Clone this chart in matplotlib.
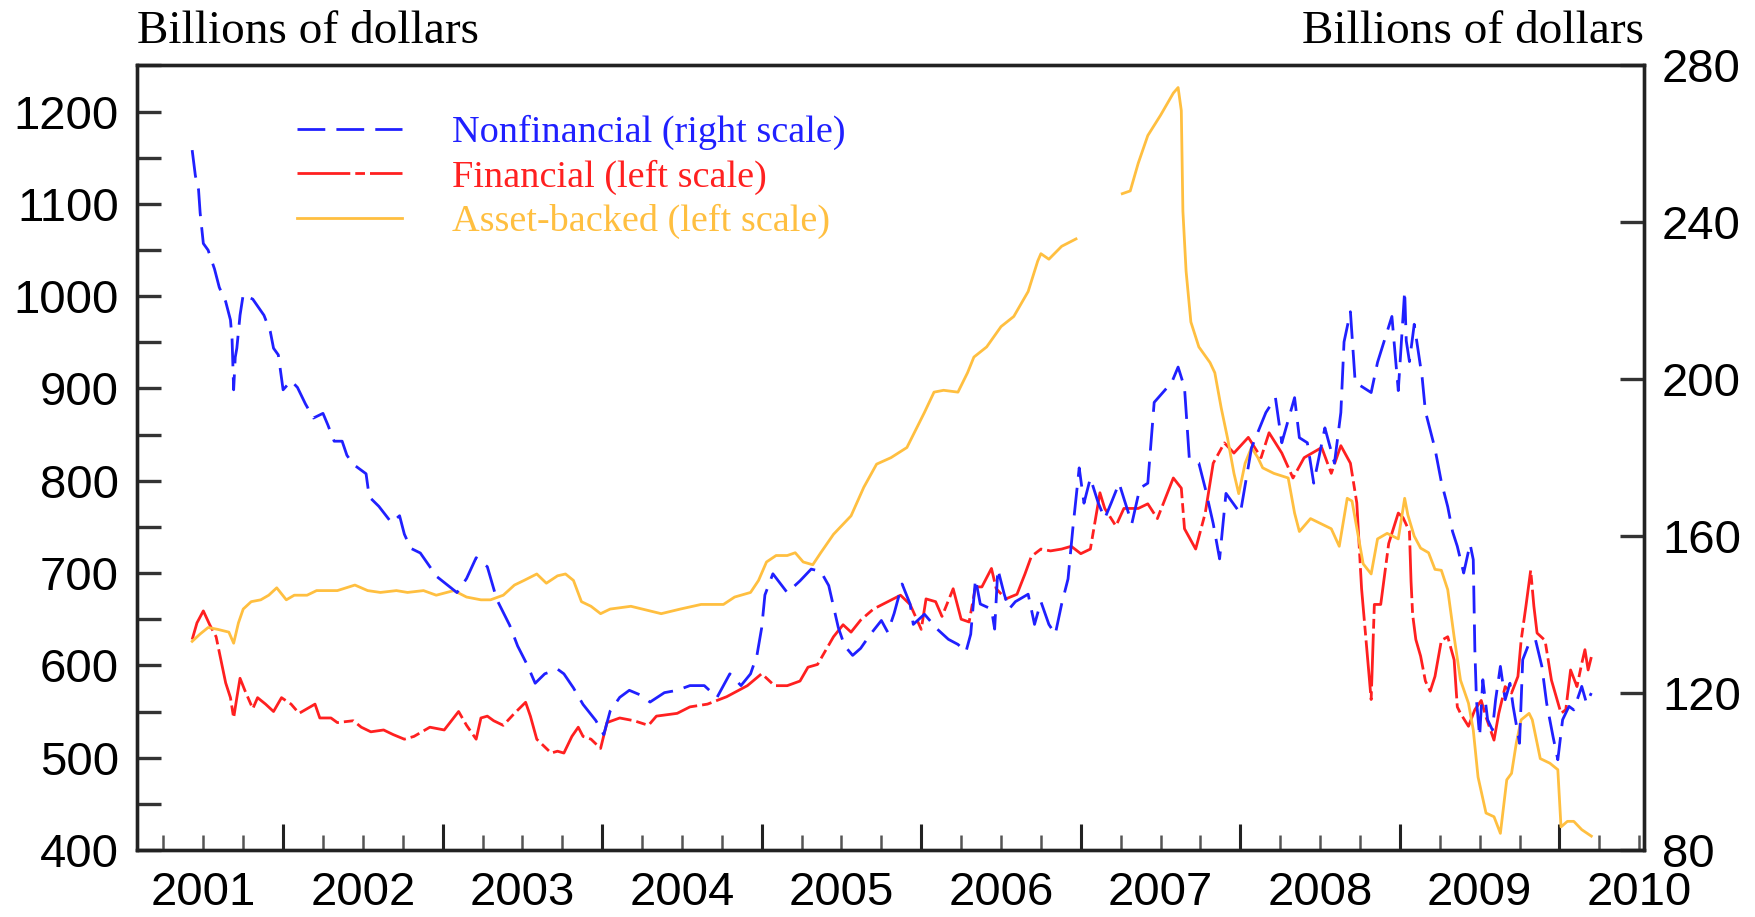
import numpy as np
import matplotlib
matplotlib.use("Agg")
import matplotlib.pyplot as plt
import matplotlib.transforms as mtransforms
from matplotlib.ticker import MultipleLocator

plt.rcParams['font.family'] = ['Liberation Sans', 'DejaVu Sans']

# commercial paper outstanding (x in fractional years)
nf_year = [2001.43, 2001.45, 2001.47, 2001.48, 2001.50, 2001.53, 2001.57, 2001.60, 2001.64, 2001.67,
           2001.68, 2001.69, 2001.70, 2001.71, 2001.73, 2001.75, 2001.81, 2001.88, 2001.92, 2001.94,
           2001.97, 2002.00, 2002.05, 2002.09, 2002.14, 2002.19, 2002.25, 2002.28, 2002.32, 2002.37,
           2002.40, 2002.44, 2002.52, 2002.54, 2002.60, 2002.68, 2002.73, 2002.76, 2002.80, 2002.86,
           2002.92, 2002.96, 2003.09, 2003.15, 2003.21, 2003.28, 2003.34, 2003.42, 2003.47, 2003.53,
           2003.58, 2003.64, 2003.72, 2003.76, 2003.82, 2003.88, 2003.96, 2004.01, 2004.05, 2004.11,
           2004.17, 2004.24, 2004.30, 2004.39, 2004.47, 2004.55, 2004.64, 2004.72, 2004.80, 2004.87,
           2004.93, 2004.97, 2005.00, 2005.02, 2005.07, 2005.16, 2005.24, 2005.31, 2005.37, 2005.42,
           2005.45, 2005.48, 2005.52, 2005.57, 2005.62, 2005.68, 2005.75, 2005.79, 2005.83, 2005.88,
           2005.93, 2005.95, 2006.02, 2006.10, 2006.17, 2006.23, 2006.28, 2006.31, 2006.34, 2006.37,
           2006.44, 2006.46, 2006.48, 2006.52, 2006.55, 2006.59, 2006.67, 2006.71, 2006.75, 2006.80,
           2006.84, 2006.88, 2006.92, 2006.95, 2006.99, 2007.02, 2007.06, 2007.11, 2007.15, 2007.19,
           2007.24, 2007.27, 2007.32, 2007.37, 2007.42, 2007.46, 2007.57, 2007.61, 2007.65, 2007.68,
           2007.74, 2007.78, 2007.83, 2007.87, 2007.91, 2008.00, 2008.07, 2008.16, 2008.22, 2008.26,
           2008.34, 2008.37, 2008.42, 2008.46, 2008.53, 2008.59, 2008.63, 2008.65, 2008.69, 2008.72,
           2008.82, 2008.86, 2008.95, 2008.99, 2009.03, 2009.04, 2009.06, 2009.09, 2009.14, 2009.16,
           2009.22, 2009.26, 2009.30, 2009.33, 2009.36, 2009.40, 2009.44, 2009.46, 2009.47, 2009.48,
           2009.50, 2009.52, 2009.55, 2009.58, 2009.60, 2009.63, 2009.66, 2009.69, 2009.71, 2009.75,
           2009.77, 2009.81, 2009.85, 2009.89, 2009.92, 2009.96, 2009.99, 2010.02, 2010.06, 2010.09,
           2010.14, 2010.17, 2010.20]
nf_val = [258.4, 251.9, 248.3, 242.4, 234.6, 232.9, 228.1, 223.4, 219.8, 215.1,
          210.3, 197.3, 205.6, 207.9, 216.3, 221.6, 220.4, 216.3, 212.1, 207.9,
          206.2, 197.3, 199.6, 197.9, 193.7, 190.1, 191.3, 188.4, 184.2, 184.2,
          180.6, 178.3, 175.9, 170.0, 167.6, 163.4, 165.2, 160.5, 156.9, 155.7,
          152.2, 149.8, 145.6, 149.2, 154.5, 152.2, 143.8, 137.3, 132.0, 127.2,
          122.5, 124.9, 126.1, 124.9, 121.3, 117.1, 113.0, 109.4, 115.4, 118.9,
          120.7, 119.5, 117.7, 120.1, 120.7, 121.9, 121.9, 118.9, 124.9, 121.9,
          124.9, 129.6, 136.7, 145.0, 150.4, 145.6, 148.6, 151.6, 151.0, 147.4,
          142.1, 136.7, 132.0, 129.6, 131.4, 134.9, 138.5, 135.5, 140.3, 147.8,
          142.7, 137.5, 140.1, 136.3, 133.7, 132.4, 130.5, 135.0, 149.1, 142.7,
          141.4, 136.3, 151.6, 145.2, 141.4, 143.3, 145.2, 137.5, 143.3, 137.5,
          135.0, 142.7, 149.1, 161.9, 177.4, 168.4, 174.8, 168.4, 164.5, 168.4,
          173.5, 169.6, 163.2, 172.2, 173.5, 194.1, 199.2, 203.1, 197.9, 179.9,
          178.6, 172.2, 163.2, 154.2, 170.9, 165.8, 182.5, 191.5, 195.3, 183.8,
          195.3, 185.1, 183.8, 173.5, 187.6, 178.6, 191.5, 209.5, 217.2, 199.2,
          196.6, 204.3, 216.0, 197.1, 222.5, 209.8, 204.5, 214.0, 200.3, 191.8,
          182.3, 173.8, 167.5, 161.2, 157.4, 150.6, 158.0, 154.0, 131.0, 118.3,
          108.9, 123.4, 113.2, 110.6, 118.3, 126.8, 118.3, 122.5, 116.6, 107.2,
          128.5, 132.7, 133.6, 126.8, 117.4, 108.9, 103.0, 113.2, 116.6, 115.7,
          121.7, 117.4, 120.0]

fin_year = [2001.43, 2001.46, 2001.50, 2001.54, 2001.58, 2001.61, 2001.64, 2001.67, 2001.69, 2001.71,
            2001.73, 2001.76, 2001.81, 2001.84, 2001.89, 2001.94, 2001.99, 2002.05, 2002.10, 2002.15,
            2002.20, 2002.23, 2002.30, 2002.34, 2002.44, 2002.49, 2002.55, 2002.63, 2002.69, 2002.76,
            2002.82, 2002.92, 2003.01, 2003.10, 2003.15, 2003.21, 2003.24, 2003.28, 2003.32, 2003.38,
            2003.45, 2003.52, 2003.55, 2003.59, 2003.68, 2003.72, 2003.76, 2003.81, 2003.85, 2003.88,
            2003.93, 2003.99, 2004.03, 2004.11, 2004.20, 2004.29, 2004.34, 2004.47, 2004.55, 2004.66,
            2004.78, 2004.91, 2005.00, 2005.08, 2005.16, 2005.24, 2005.29, 2005.35, 2005.40, 2005.45,
            2005.51, 2005.56, 2005.62, 2005.70, 2005.79, 2005.87, 2005.93, 2006.00, 2006.03, 2006.09,
            2006.13, 2006.20, 2006.25, 2006.30, 2006.34, 2006.38, 2006.44, 2006.47, 2006.53, 2006.60,
            2006.65, 2006.69, 2006.75, 2006.81, 2006.88, 2006.94, 2007.00, 2007.06, 2007.12, 2007.15,
            2007.22, 2007.27, 2007.36, 2007.42, 2007.48, 2007.58, 2007.63, 2007.65, 2007.72, 2007.78,
            2007.83, 2007.90, 2007.96, 2008.05, 2008.13, 2008.18, 2008.26, 2008.33, 2008.40, 2008.51,
            2008.57, 2008.63, 2008.69, 2008.73, 2008.76, 2008.82, 2008.84, 2008.88, 2008.93, 2008.99,
            2009.02, 2009.06, 2009.07, 2009.08, 2009.10, 2009.13, 2009.16, 2009.19, 2009.22, 2009.26,
            2009.30, 2009.34, 2009.36, 2009.38, 2009.43, 2009.47, 2009.51, 2009.54, 2009.59, 2009.62,
            2009.66, 2009.70, 2009.74, 2009.76, 2009.79, 2009.82, 2009.84, 2009.86, 2009.91, 2009.95,
            2009.98, 2010.01, 2010.04, 2010.07, 2010.11, 2010.14, 2010.16, 2010.18, 2010.20]
fin_val = [628, 646, 659, 644, 631, 606, 581, 565, 543, 565,
           586, 573, 553, 565, 558, 550, 565, 558, 548, 553,
           558, 543, 543, 538, 540, 533, 528, 530, 525, 520,
           523, 533, 530, 550, 535, 520, 543, 545, 540, 535,
           548, 560, 545, 520, 505, 507, 505, 523, 533, 523,
           520, 510, 538, 543, 540, 535, 545, 548, 555, 558,
           566, 578, 591, 578, 578, 583, 598, 601, 616, 631,
           644, 636, 649, 661, 669, 676, 666, 639, 672, 669,
           653, 683, 650, 647, 685, 685, 705, 683, 672, 677,
           699, 718, 726, 724, 726, 729, 721, 726, 787, 770,
           751, 770, 770, 775, 759, 803, 792, 748, 726, 765,
           819, 841, 830, 847, 825, 852, 830, 803, 825, 836,
           808, 838, 819, 776, 683, 563, 666, 666, 732, 765,
           760, 745, 691, 655, 628, 610, 583, 572, 588, 627,
           631, 606, 555, 548, 534, 552, 562, 544, 519, 548,
           577, 570, 588, 627, 664, 703, 664, 635, 627, 584,
           566, 548, 552, 595, 577, 602, 617, 595, 609]

abs_year = [2001.43, 2001.48, 2001.53, 2001.59, 2001.66, 2001.69, 2001.72, 2001.75, 2001.80, 2001.86,
            2001.91, 2001.96, 2002.02, 2002.07, 2002.15, 2002.21, 2002.34, 2002.45, 2002.53, 2002.61,
            2002.71, 2002.78, 2002.88, 2002.96, 2003.07, 2003.15, 2003.24, 2003.30, 2003.38, 2003.45,
            2003.51, 2003.59, 2003.65, 2003.72, 2003.77, 2003.82, 2003.87, 2003.93, 2003.99, 2004.05,
            2004.18, 2004.30, 2004.37, 2004.49, 2004.62, 2004.76, 2004.83, 2004.93, 2004.98, 2005.03,
            2005.09, 2005.16, 2005.21, 2005.26, 2005.32, 2005.37, 2005.45, 2005.56, 2005.64, 2005.72,
            2005.81, 2005.91, 2006.02, 2006.08, 2006.14, 2006.23, 2006.29, 2006.33, 2006.41, 2006.50,
            2006.58, 2006.67, 2006.73, 2006.75, 2006.80, 2006.88, 2006.97, 2007.10, 2007.26, 2007.31,
            2007.36, 2007.42, 2007.50, 2007.58, 2007.61, 2007.63, 2007.64, 2007.66, 2007.69, 2007.74,
            2007.81, 2007.84, 2007.88, 2007.92, 2007.96, 2007.99, 2008.03, 2008.07, 2008.11, 2008.14,
            2008.21, 2008.30, 2008.34, 2008.37, 2008.44, 2008.57, 2008.62, 2008.67, 2008.70, 2008.77,
            2008.82, 2008.86, 2008.92, 2008.99, 2009.03, 2009.05, 2009.09, 2009.13, 2009.18, 2009.22,
            2009.26, 2009.30, 2009.34, 2009.38, 2009.43, 2009.46, 2009.49, 2009.54, 2009.59, 2009.63,
            2009.67, 2009.70, 2009.73, 2009.76, 2009.81, 2009.83, 2009.88, 2009.94, 2009.99, 2010.01,
            2010.05, 2010.09, 2010.14, 2010.20]
abs_val = [626, 634, 641, 639, 636, 624, 646, 661, 669, 671,
           676, 684, 671, 676, 676, 681, 681, 687, 681, 679,
           681, 679, 681, 676, 681, 674, 671, 671, 676, 687,
           692, 699, 689, 697, 699, 692, 669, 664, 656, 661,
           664, 659, 656, 661, 666, 666, 674, 679, 692, 712,
           719, 719, 722, 712, 709, 722, 742, 762, 793, 818,
           825, 836, 874, 896, 898, 896, 917, 934, 945, 967,
           978, 1005, 1038, 1046, 1040, 1054, 1062, np.nan, 1111, 1114,
           1144, 1174, 1196, 1220, 1226, 1201, 1092, 1027, 972, 945,
           928, 917, 879, 846, 808, 786, 819, 836, 825, 814,
           808, 803, 765, 745, 759, 748, 729, 781, 778, 710,
           699, 737, 743, 737, 781, 763, 740, 727, 722, 704,
           703, 682, 631, 584, 559, 530, 479, 440, 436, 418,
           476, 483, 516, 541, 548, 541, 499, 494, 487, 425,
           431, 431, 422, 415]

year_labels = list(range(2001, 2011))
left_ticks = list(range(400, 1201, 100))
right_ticks = list(range(80, 281, 40))

c_nf = '#2020ff'
c_fin = '#ff2020'
c_abs = '#ffbf40'

fig = plt.figure(figsize=(17.56, 9.17), dpi=100)
ax = fig.add_axes([0.0780, 0.0731, 0.8582, 0.8556])
ax2 = ax.twinx()

l_fin, = ax.plot(fin_year, fin_val, color=c_fin, lw=2.0, dashes=(19, 1.8, 3.5, 1.8),
                 label='Financial (left scale)')
l_abs, = ax.plot(abs_year, np.array(abs_val, dtype=float), color=c_abs, lw=2.0,
                 label='Asset-backed (left scale)')
l_nf, = ax2.plot(nf_year, nf_val, color=c_nf, lw=2.0, dashes=(10, 4),
                 label='Nonfinancial (right scale)')

ax.set_xlim(2001.084, 2010.53)
ax.set_ylim(400, 1250)
ax2.set_ylim(80, 280)

# x axis: year boundaries as long ticks, quarters as short ones, labels mid-year
ax.set_xticks(range(2002, 2011))
ax.set_xticklabels([])
ax.xaxis.set_minor_locator(MultipleLocator(0.25))
ax.tick_params(axis='x', which='major', direction='in', length=19, width=2.2, color='#222222')
ax.tick_params(axis='x', which='minor', direction='in', length=11, width=1.8, color='#555555')
tr = mtransforms.blended_transform_factory(ax.transData, ax.transAxes)
for y in year_labels:
    ax.text(y + 0.5, -0.055, str(y), transform=tr, ha='center', va='center', fontsize=34)

ax.set_yticks(left_ticks)
ax.yaxis.set_minor_locator(MultipleLocator(50))
ax.tick_params(axis='y', which='both', direction='in', length=17, width=2.4, color='#333333',
               labelsize=34, pad=13)
ax2.set_yticks(right_ticks)
ax2.tick_params(axis='y', which='both', direction='in', length=17, width=2.4, color='#333333',
                labelsize=34, pad=13)

for a in (ax, ax2):
    for s in a.spines.values():
        s.set_linewidth(2.4)
        s.set_color('#222222')

ax.text(0, 1.029, 'Billions of dollars', transform=ax.transAxes, ha='left', va='baseline',
        fontsize=34, family=['Liberation Serif', 'DejaVu Serif'])
ax.text(1, 1.029, 'Billions of dollars', transform=ax.transAxes, ha='right', va='baseline',
        fontsize=34, family=['Liberation Serif', 'DejaVu Serif'])

leg = ax2.legend(handles=[l_nf, l_fin, l_abs], loc='upper left',
                 bbox_to_anchor=(297 / 1756, 1 - 115 / 917), bbox_transform=fig.transFigure,
                 frameon=False, borderpad=0, borderaxespad=0, handlelength=2.75,
                 handletextpad=1.3, labelspacing=0.24, labelcolor='linecolor',
                 prop={'family': ['Liberation Serif', 'DejaVu Serif'], 'size': 27.5})

fig.savefig('out.png', dpi=100)
